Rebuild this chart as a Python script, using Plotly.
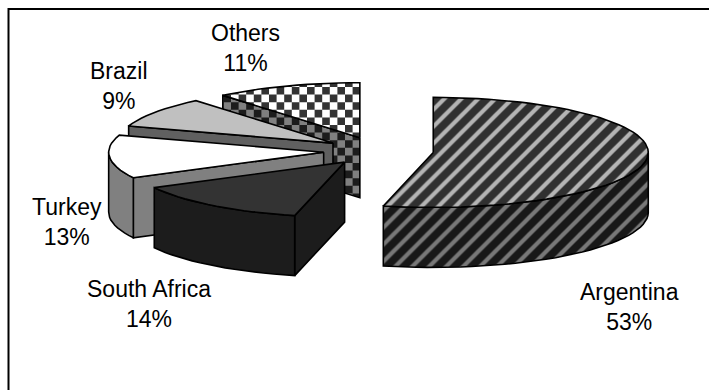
import numpy as np
import plotly.graph_objects as go

# Export shares by origin
categories = ["Argentina", "South Africa", "Turkey", "Brazil", "Others"]
shares = [53, 14, 13, 9, 11]

WIDTH, HEIGHT = 709, 390
CENTER = (378.5, 151.0)
RX, RY = 215.0, 55.0
DEPTH = 60.0
EXPLODE = 0.256
INK = "#000000"
FONT = "Liberation Sans"
LABEL_POS = {
    "Argentina": (629, 306.5),
    "South Africa": (148.5, 303.5),
    "Turkey": (67, 221.5),
    "Brazil": (118.5, 85.5),
    "Others": (245, 47.5),
}
STYLE = {
    "Argentina": dict(kind="stripe", top=("#303030", "#b4b4b4"), side=("#181818", "#787878")),
    "South Africa": dict(kind="solid", top="#333333", side="#1c1c1c"),
    "Turkey": dict(kind="solid", top="#ffffff", side="#808080"),
    "Brazil": dict(kind="solid", top="#c0c0c0", side="#606060"),
    "Others": dict(kind="check", top=("#ffffff", "#333333"), side=("#808080", "#1c1c1c")),
}
CHECK_CELL = 7.6
CHECK_ORIGIN = (307.0, 87.0)


def project(theta):
    """Unit pie direction for a clockwise angle from 12 o'clock, with the slight
    widening that the tilted view gives the part of the pie nearest the viewer."""
    phi = theta + np.radians(2.7) * np.sin(theta / 2) ** 6
    return np.sin(phi), -np.cos(phi)


def rim(apex, a0, a1, steps=60):
    t = np.linspace(a0, a1, max(2, int(steps * (a1 - a0) / np.pi) + 2))
    u, v = project(t)
    return apex[0] + RX * u, apex[1] + RY * v


def clip_convex(cell, poly):
    """Sutherland-Hodgman clip of one checker cell to a convex face."""
    area = sum(poly[i][0] * poly[(i + 1) % len(poly)][1] - poly[(i + 1) % len(poly)][0] * poly[i][1]
               for i in range(len(poly)))
    sign = 1 if area > 0 else -1
    out = cell
    for i in range(len(poly)):
        ax, ay = poly[i]
        bx, by = poly[(i + 1) % len(poly)]
        side = lambda p: sign * ((bx - ax) * (p[1] - ay) - (by - ay) * (p[0] - ax))
        clipped = []
        for k in range(len(out)):
            p, q = out[k], out[(k + 1) % len(out)]
            sp, sq = side(p), side(q)
            if sp >= 0:
                clipped.append(p)
            if sp * sq < 0:
                f = sp / (sp - sq)
                clipped.append((p[0] + f * (q[0] - p[0]), p[1] + f * (q[1] - p[1])))
        out = clipped
        if not out:
            break
    return out


fig = go.Figure()


def add_face(xs, ys, paint, kind):
    xs, ys = list(xs), list(ys)
    common = dict(mode="lines", fill="toself", hoverinfo="skip", showlegend=False)
    outline = dict(color=INK, width=1.6)
    if kind == "stripe":
        bg, fg = paint
        fig.add_trace(go.Scatter(
            x=xs + xs[:1], y=ys + ys[:1], line=outline, fillcolor=bg,
            fillpattern=dict(shape="/", bgcolor=bg, fgcolor=fg, fgopacity=1, size=12, solidity=0.35),
            **common))
    elif kind == "check":
        light, dark = paint
        poly = list(zip(xs, ys))
        fig.add_trace(go.Scatter(x=xs + xs[:1], y=ys + ys[:1], line=dict(width=0),
                                 fillcolor=light, **common))
        cx, cy = [], []
        i0 = int(np.floor((min(xs) - CHECK_ORIGIN[0]) / CHECK_CELL)) - 1
        i1 = int(np.ceil((max(xs) - CHECK_ORIGIN[0]) / CHECK_CELL)) + 1
        j0 = int(np.floor((min(ys) - CHECK_ORIGIN[1]) / CHECK_CELL)) - 1
        j1 = int(np.ceil((max(ys) - CHECK_ORIGIN[1]) / CHECK_CELL)) + 1
        for i in range(i0, i1):
            for j in range(j0, j1):
                if (i + j) % 2:
                    continue
                l, t = CHECK_ORIGIN[0] + i * CHECK_CELL, CHECK_ORIGIN[1] + j * CHECK_CELL
                cell = [(l, t), (l + CHECK_CELL, t), (l + CHECK_CELL, t + CHECK_CELL), (l, t + CHECK_CELL)]
                piece = clip_convex(cell, poly)
                if piece:
                    cx += [p[0] for p in piece] + [piece[0][0], None]
                    cy += [p[1] for p in piece] + [piece[0][1], None]
        fig.add_trace(go.Scatter(x=cx, y=cy, line=dict(width=0), fillcolor=dark, **common))
        fig.add_trace(go.Scatter(x=xs + xs[:1], y=ys + ys[:1], mode="lines", line=outline,
                                 hoverinfo="skip", showlegend=False))
    else:
        fig.add_trace(go.Scatter(x=xs + xs[:1], y=ys + ys[:1], line=outline, fillcolor=paint, **common))


# Slice angles from the shares, clockwise from 12 o'clock
edges = np.concatenate([[0], np.cumsum(shares)]) / sum(shares) * 2 * np.pi
slices = {}
for name, a0, a1 in zip(categories, edges[:-1], edges[1:]):
    mu, mv = project((a0 + a1) / 2)
    apex = (CENTER[0] + EXPLODE * RX * mu, CENTER[1] + EXPLODE * RY * mv)
    slices[name] = (apex, a0, a1)

# Painter's order: far slices first
for name in ["Others", "Brazil", "Turkey", "South Africa", "Argentina"]:
    apex, a0, a1 = slices[name]
    st = STYLE[name]
    rx_, ry_ = rim(apex, a0, a1)
    # cut faces turned toward the viewer
    for edge, visible, i in ((a0, np.sin(a0) < -1e-9, 0), (a1, np.sin(a1) > 1e-9, -1)):
        if visible:
            add_face([apex[0], rx_[i], rx_[i], apex[0]],
                     [apex[1], ry_[i], ry_[i] + DEPTH, apex[1] + DEPTH], st["side"], st["kind"])
    # outer wall, only where the rim faces the viewer
    w0, w1 = max(a0, np.pi / 2), min(a1, 3 * np.pi / 2)
    if w1 > w0:
        wx_, wy_ = rim(apex, w0, w1)
        add_face(np.concatenate([wx_, wx_[::-1]]), np.concatenate([wy_, wy_[::-1] + DEPTH]),
                 st["side"], st["kind"])
    # top
    add_face(np.concatenate([[apex[0]], rx_]), np.concatenate([[apex[1]], ry_]), st["top"], st["kind"])

# Frame lines along the top and left of the chart area
fig.add_trace(go.Scatter(x=[8.5, 8.5, WIDTH], y=[HEIGHT, 9, 9], mode="lines",
                         line=dict(color=INK, width=2), hoverinfo="skip", showlegend=False))

for name, share in zip(categories, shares):
    x, y = LABEL_POS[name]
    fig.add_annotation(x=x, y=y, text=f"{name}<br>{share}%", showarrow=False, align="center",
                       font=dict(family=FONT, size=23, color="#000000"))

fig.update_layout(
    width=WIDTH, height=HEIGHT, margin=dict(l=0, r=0, t=0, b=0),
    paper_bgcolor="#ffffff", plot_bgcolor="#ffffff", showlegend=False,
    xaxis=dict(range=[0, WIDTH], visible=False, fixedrange=True),
    yaxis=dict(range=[HEIGHT, 0], visible=False, fixedrange=True),
)
fig.write_html("out.html", config=dict(displayModeBar=False))
